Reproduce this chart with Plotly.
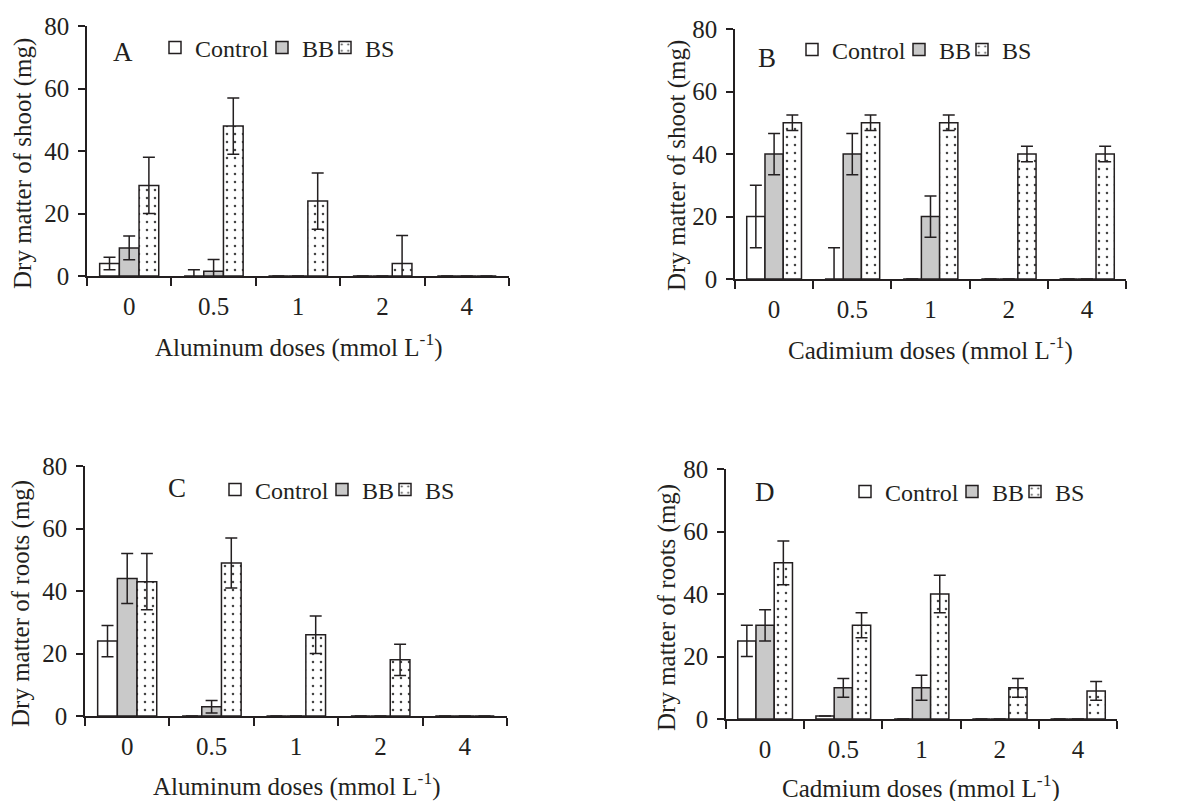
import plotly.graph_objects as go

# ---------------- data ----------------
doses = ["0", "0.5", "1", "2", "4"]
series_names = ["Control", "BB", "BS"]

# A: shoot, aluminum
shoot_al_control = [4, 0, 0, 0, 0]
shoot_al_control_err = [2, 2, 0, 0, 0]
shoot_al_bb = [9, 1.5, 0, 0, 0]
shoot_al_bb_err = [3.8, 3.8, 0, 0, 0]
shoot_al_bs = [29, 48, 24, 4, 0]
shoot_al_bs_err = [9, 9, 9, 9, 0]

# B: shoot, cadmium
shoot_cd_control = [20, 0, 0, 0, 0]
shoot_cd_control_err = [10, 10, 0, 0, 0]
shoot_cd_bb = [40, 40, 20, 0, 0]
shoot_cd_bb_err = [6.6, 6.6, 6.6, 0, 0]
shoot_cd_bs = [50, 50, 50, 40, 40]
shoot_cd_bs_err = [2.5, 2.5, 2.5, 2.5, 2.5]

# C: roots, aluminum
root_al_control = [24, 0, 0, 0, 0]
root_al_control_err = [5, 0, 0, 0, 0]
root_al_bb = [44, 3, 0, 0, 0]
root_al_bb_err = [8, 2, 0, 0, 0]
root_al_bs = [43, 49, 26, 18, 0]
root_al_bs_err = [9, 8, 6, 5, 0]

# D: roots, cadmium
root_cd_control = [25, 1, 0, 0, 0]
root_cd_control_err = [5, 0, 0, 0, 0]
root_cd_bb = [30, 10, 10, 0, 0]
root_cd_bb_err = [5, 3, 4, 0, 0]
root_cd_bs = [50, 30, 40, 10, 9]
root_cd_bs_err = [7, 4, 6, 3, 3]

panel_letters = ["A", "B", "C", "D"]
x_titles = ["Aluminum doses (mmol L<sup>-1</sup>)",
            "Cadimium doses (mmol L<sup>-1</sup>)",
            "Aluminum doses (mmol L<sup>-1</sup>)",
            "Cadmium doses (mmol L<sup>-1</sup>)"]
y_titles = ["Dry matter of shoot (mg)", "Dry matter of shoot (mg)",
            "Dry matter of roots (mg)", "Dry matter of roots (mg)"]

panels = [
    [(shoot_al_control, shoot_al_control_err), (shoot_al_bb, shoot_al_bb_err), (shoot_al_bs, shoot_al_bs_err)],
    [(shoot_cd_control, shoot_cd_control_err), (shoot_cd_bb, shoot_cd_bb_err), (shoot_cd_bs, shoot_cd_bs_err)],
    [(root_al_control, root_al_control_err), (root_al_bb, root_al_bb_err), (root_al_bs, root_al_bs_err)],
    [(root_cd_control, root_cd_control_err), (root_cd_bb, root_cd_bb_err), (root_cd_bs, root_cd_bs_err)],
]

# ---------------- style / layout ----------------
W, H = 1204, 801
FONT = "Liberation Serif, Times New Roman, serif"
INK = "#231f20"

def px(x):
    return x / W

def py(y):
    return 1 - y / H

# plot-area boxes in pixels: (left, right, top, bottom)
boxes = [(87, 509, 26, 276), (735, 1126, 29, 279), (85, 507, 466, 716), (726, 1117, 469, 719)]
legend_starts = [175, 812, 235, 865]       # left edge of first legend box in the reference
legend_y = [48, 50, 490, 492]
legend_item_widths = [62, 18, 0]
letter_pos = [(123, 52), (767, 58), (177, 488), (765, 492)]
ytitle_pos = [(23, 164), (677, 166), (21, 604), (667, 608)]
xtitle_offset = [70, 70, 68, 67]

fills = ["white", "#c9c9c9", "white"]

fig = go.Figure()
for i, panel in enumerate(panels):
    sfx = "" if i == 0 else str(i + 1)
    for j, (vals, errs) in enumerate(panel):
        marker = dict(color=fills[j], line=dict(color=INK, width=1.5))
        if j == 2:
            marker["pattern"] = dict(shape=".", fgcolor="#444444", bgcolor="white",
                                     size=8, solidity=0.08, fillmode="replace")
        fig.add_trace(go.Bar(
            x=doses, y=vals, name=series_names[j],
            marker=marker,
            error_y=dict(type="data", array=errs, visible=True, color=INK,
                         thickness=1.5, width=6),
            xaxis="x" + sfx, yaxis="y" + sfx,
            legend="legend" + sfx,
            legendwidth=legend_item_widths[j] if legend_item_widths[j] else None,
            showlegend=True,
        ))

layout = dict(
    width=W, height=H, margin=dict(l=0, r=0, t=0, b=0, autoexpand=False),
    paper_bgcolor="white", plot_bgcolor="white",
    font=dict(family=FONT, size=25, color=INK),
    barmode="group", bargap=0.3, bargroupgap=0,
    showlegend=True,
)

annotations = []
for i in range(4):
    sfx = "" if i == 0 else str(i + 1)
    l, r, t, b = boxes[i]
    layout["xaxis" + sfx] = dict(
        domain=[px(l), px(r)], anchor="y" + sfx, type="category",
        tickson="boundaries", ticks="outside", ticklen=8, tickwidth=1.5,
        tickcolor=INK, showline=True, linecolor=INK, linewidth=1.5,
        showgrid=False, zeroline=False, tickfont=dict(size=25, family=FONT, color=INK),
        ticklabelstandoff=7, fixedrange=True,
    )
    layout["yaxis" + sfx] = dict(
        domain=[py(b), py(t)], anchor="x" + sfx, range=[0, 80], dtick=20,
        ticks="outside", ticklen=7, tickwidth=1.5, tickcolor=INK,
        showline=True, linecolor=INK, linewidth=1.5, showgrid=False,
        zeroline=False, tickfont=dict(size=25, family=FONT, color=INK),
        ticklabelstandoff=4, fixedrange=True,
    )
    layout["legend" + sfx] = dict(
        orientation="h", x=px(legend_starts[i] - 20), y=py(legend_y[i]),
        xanchor="left", yanchor="middle",
        font=dict(size=24, family=FONT, color=INK), bgcolor="rgba(0,0,0,0)",
        itemwidth=30, traceorder="normal", borderwidth=0,
    )
    ax, ay = letter_pos[i]
    annotations.append(dict(text=panel_letters[i], x=px(ax), y=py(ay), xref="paper", yref="paper",
                            showarrow=False, xanchor="center", yanchor="middle",
                            font=dict(size=27, family=FONT, color=INK)))
    annotations.append(dict(text=x_titles[i], x=px((l + r) / 2), y=py(b + xtitle_offset[i]),
                            xref="paper", yref="paper",
                            showarrow=False, xanchor="center", yanchor="middle",
                            font=dict(size=25, family=FONT, color=INK)))
    tx, ty = ytitle_pos[i]
    annotations.append(dict(text=y_titles[i], x=px(tx), y=py(ty), xref="paper", yref="paper",
                            showarrow=False, xanchor="center", yanchor="middle", textangle=-90,
                            font=dict(size=25, family=FONT, color=INK)))

layout["annotations"] = annotations
fig.update_layout(**layout)
fig.write_html("out.html", config={"displayModeBar": False},
               post_script="document.body.style.margin='0';")
